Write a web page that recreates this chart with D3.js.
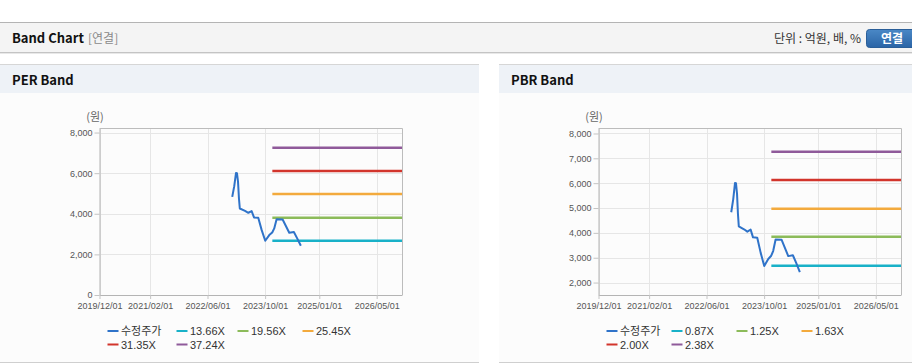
<!DOCTYPE html>
<html>
<head>
<meta charset="utf-8">
<script src="https://cdn.jsdelivr.net/npm/d3@7"></script>
<style>
  body { margin: 0; background: #fff; }
  svg { display: block; font-family: "Liberation Sans", Arial, sans-serif; }
  .kr { font-family: "Noto Sans CJK KR", "Noto Sans", sans-serif; }
</style>
</head>
<body>
<div id="holder"></div>
<script>
// adjusted share price (수정주가)
var priceDates = ['2022-12-27','2023-01-13','2023-01-28','2023-02-05','2023-02-14','2023-02-22','2023-03-01',
  '2023-04-14','2023-05-12','2023-06-09','2023-06-29','2023-08-04','2023-09-02','2023-10-02','2023-11-05',
  '2023-11-30','2023-12-17','2024-01-06','2024-02-26','2024-04-22','2024-05-31','2024-06-28','2024-07-29'];
var priceValues = [4830, 5360, 6010, 6000, 5570, 4740, 4260,
  4145, 4050, 4130, 3820, 3800, 3195, 2670, 2950,
  3080, 3280, 3735, 3720, 3065, 3100, 2790, 2425];

// band lines
var bandStart = '2023-12-01';
var bandEnd = '2026-12-01';
var perMultiples = ['13.66X', '19.56X', '25.45X', '31.35X', '37.24X'];
var perBandValues = [2668, 3810, 4975, 6110, 7255];
var pbrMultiples = ['0.87X', '1.25X', '1.63X', '2.00X', '2.38X'];
var pbrBandValues = [2679, 3846, 4973, 6128, 7267];

// axes
var xDomain = ['2019-12-01', '2026-12-01'];
var xTickLabels = ['2019/12/01', '2021/02/01', '2022/06/01', '2023/10/01', '2025/01/01', '2026/05/01'];
var perYDomain = [0, 8200];
var perYTicks = [0, 2000, 4000, 6000, 8000];
var pbrYDomain = [1500, 8200];
var pbrYTicks = [2000, 3000, 4000, 5000, 6000, 7000, 8000];

var priceName = '수정주가';
var colors = ['#2f73c9', '#19b1c8', '#8cbb5a', '#f3aa3d', '#d2352c', '#8f5a9a'];

var parse = d3.timeParse('%Y-%m-%d');
var parseTick = d3.timeParse('%Y/%m/%d');

var svg = d3.select('#holder').append('svg')
  .attr('width', 912)
  .attr('height', 364);

// top header bar
svg.append('rect').attr('x', 0).attr('y', 23).attr('width', 912).attr('height', 30).attr('fill', '#f4f4f4');
svg.append('line').attr('x1', 0).attr('x2', 912).attr('y1', 22.5).attr('y2', 22.5).attr('stroke', '#b4b4b4');
svg.append('line').attr('x1', 0).attr('x2', 912).attr('y1', 52.5).attr('y2', 52.5).attr('stroke', '#c4c4c4');
svg.append('line').attr('x1', 0).attr('x2', 912).attr('y1', 53.5).attr('y2', 53.5).attr('stroke', '#e8e8e8');

svg.append('text').attr('class', 'kr')
  .attr('x', 12).attr('y', 43)
  .attr('font-size', 13).attr('font-weight', 'bold').attr('fill', '#111')
  .text('Band Chart');
svg.append('text').attr('class', 'kr')
  .attr('x', 88).attr('y', 43)
  .attr('font-size', 12).attr('fill', '#8a8a8a')
  .text('[연결]');
svg.append('text').attr('class', 'kr')
  .attr('x', 861).attr('y', 43)
  .attr('text-anchor', 'end')
  .attr('font-size', 12).attr('fill', '#333')
  .text('단위 : 억원, 배, %');

var grad = svg.append('defs').append('linearGradient')
  .attr('id', 'btn').attr('x1', 0).attr('x2', 0).attr('y1', 0).attr('y2', 1);
grad.append('stop').attr('offset', '0%').attr('stop-color', '#4a88c6');
grad.append('stop').attr('offset', '100%').attr('stop-color', '#2a64a6');
svg.append('rect').attr('x', 866.5).attr('y', 29.5).attr('width', 52).attr('height', 18).attr('rx', 3)
  .attr('fill', 'url(#btn)').attr('stroke', '#2a5e98');
svg.append('text').attr('class', 'kr')
  .attr('x', 892).attr('y', 43)
  .attr('text-anchor', 'middle')
  .attr('font-size', 12).attr('font-weight', 'bold').attr('fill', '#fff')
  .text('연결');

function drawPanel(opt) {
  var g = svg.append('g').attr('transform', 'translate(' + opt.x + ',0)');

  g.append('rect').attr('x', 0).attr('y', 65).attr('width', opt.w).attr('height', 28).attr('fill', '#eef2f7');
  g.append('rect').attr('x', 0).attr('y', 93).attr('width', opt.w).attr('height', 269).attr('fill', '#fcfcfc');
  g.append('line').attr('x1', 0).attr('x2', opt.w).attr('y1', 64.5).attr('y2', 64.5).attr('stroke', '#d6d6d6');
  g.append('line').attr('x1', 0).attr('x2', opt.w).attr('y1', 362.5).attr('y2', 362.5).attr('stroke', '#cfcfcf');

  g.append('text').attr('class', 'kr')
    .attr('x', 12).attr('y', 85)
    .attr('font-size', 13).attr('font-weight', 'bold').attr('fill', '#111')
    .text(opt.title);

  var left = 99.5, right = 402, top = 128.5, bottom = 295;

  var xScale = d3.scaleTime()
    .domain(xDomain.map(parse))
    .range([left, right]);
  var yScale = d3.scaleLinear()
    .domain(opt.yDomain)
    .range([bottom, top]);

  var tickDates = xTickLabels.map(parseTick);

  // grid
  g.append('g').selectAll('line.hgrid')
    .data(opt.yTicks)
    .enter().append('line')
      .attr('x1', left).attr('x2', right)
      .attr('y1', function (d) { return Math.round(yScale(d)) + 0.5; })
      .attr('y2', function (d) { return Math.round(yScale(d)) + 0.5; })
      .attr('stroke', '#e6e6e6');
  g.append('g').selectAll('line.vgrid')
    .data(tickDates)
    .enter().append('line')
      .attr('x1', function (d) { return Math.round(xScale(d)) + 0.5; })
      .attr('x2', function (d) { return Math.round(xScale(d)) + 0.5; })
      .attr('y1', top).attr('y2', bottom)
      .attr('stroke', '#e6e6e6');

  // frame top/right
  g.append('line').attr('x1', left).attr('x2', right + 0.5).attr('y1', top).attr('y2', top).attr('stroke', '#bcbcbc');
  g.append('line').attr('x1', right + 0.5).attr('x2', right + 0.5).attr('y1', top).attr('y2', bottom).attr('stroke', '#bcbcbc');

  var yaxis = d3.axisLeft(yScale)
    .tickValues(opt.yTicks)
    .tickFormat(d3.format(','))
    .tickSize(5)
    .tickSizeOuter(0)
    .tickPadding(2);
  var ya = g.append('g')
    .attr('transform', 'translate(' + left + ',0)')
    .call(yaxis);

  var xaxis = d3.axisBottom(xScale)
    .tickValues(tickDates)
    .tickFormat(d3.timeFormat('%Y/%m/%d'))
    .tickSize(4)
    .tickSizeOuter(0)
    .tickPadding(4);
  var xa = g.append('g')
    .attr('transform', 'translate(0,' + bottom + ')')
    .call(xaxis);

  [ya, xa].forEach(function (a) {
    a.select('.domain').attr('stroke', '#b4b4b4');
    a.selectAll('.tick line').attr('stroke', '#c4c4c4');
    a.selectAll('.tick text')
      .attr('font-family', '"Liberation Sans", Arial, sans-serif')
      .attr('font-size', 9).attr('fill', '#555');
  });

  g.append('text').attr('class', 'kr')
    .attr('x', 95).attr('y', 121)
    .attr('text-anchor', 'middle')
    .attr('font-size', 11).attr('fill', '#666')
    .text('(원)');

  // bands
  var bandDates = [parse(bandStart), parse(bandEnd)];
  var bandLine = d3.line()
    .x(function (d) { return xScale(d.date); })
    .y(function (d) { return yScale(d.value); });
  opt.bands.forEach(function (v, i) {
    g.append('path')
      .datum(bandDates.map(function (dt) { return { date: dt, value: v }; }))
      .attr('d', bandLine)
      .attr('fill', 'none')
      .attr('stroke', colors[i + 1])
      .attr('stroke-width', 2.5);
  });

  // price
  var priceData = priceDates.map(function (d, i) { return { date: parse(d), value: priceValues[i] }; });
  g.append('path')
    .datum(priceData)
    .attr('d', bandLine)
    .attr('fill', 'none')
    .attr('stroke', colors[0])
    .attr('stroke-width', 2)
    .attr('stroke-linejoin', 'round');

  // legend
  var names = [priceName].concat(opt.names);
  var legend = g.append('g').selectAll('g.item')
    .data(names)
    .enter().append('g')
      .attr('transform', function (d, i) {
        var col = i % 4, row = Math.floor(i / 4);
        return 'translate(' + (107.5 + opt.legendCols[col]) + ',' + (331 + row * 13.5) + ')';
      });
  legend.append('line')
    .attr('x1', 0).attr('x2', 11)
    .attr('y1', 0).attr('y2', 0)
    .attr('stroke', function (d, i) { return colors[i]; })
    .attr('stroke-width', 2);
  legend.append('text')
    .attr('class', function (d, i) { return i === 0 ? 'kr' : null; })
    .attr('x', 13.5).attr('y', 4)
    .attr('font-size', 11).attr('fill', '#333')
    .text(function (d) { return d; });
}

drawPanel({ x: 0, w: 479, title: 'PER Band', yDomain: perYDomain, yTicks: perYTicks,
  bands: perBandValues, names: perMultiples, legendCols: [0, 69, 130, 195] });
drawPanel({ x: 499, w: 413, title: 'PBR Band', yDomain: pbrYDomain, yTicks: pbrYTicks,
  bands: pbrBandValues, names: pbrMultiples, legendCols: [0, 65, 130, 195] });
</script>
</body>
</html>
